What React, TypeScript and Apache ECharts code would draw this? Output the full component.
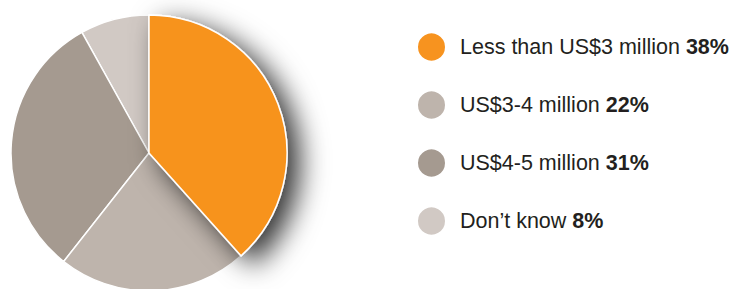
import React, { useEffect, useRef } from "react";
import * as echarts from "echarts";

const categories = ["Less than US$3 million", "US$3-4 million", "US$4-5 million", "Don\u2019t know"];
const values = [38, 22, 31, 8];
const colors = ["#F7931F", "#BEB4AC", "#A59A90", "#D1C9C4"];

export default function App() {
  const ref = useRef<HTMLDivElement>(null);
  useEffect(() => {
    document.body.style.margin = "0";
    const chart = echarts.init(ref.current!, null, { renderer: "svg" });
    // draw in reverse order, counter-clockwise, so the orange slice is on top and casts its shadow
    const order = [3, 2, 1, 0];
    const data = order.map((i) => ({
      name: categories[i],
      value: values[i],
      itemStyle:
        i === 0
          ? {
              color: colors[i],
              shadowBlur: 28,
              shadowColor: "rgba(0,0,0,0.8)",
              shadowOffsetX: 12,
              shadowOffsetY: 9,
            }
          : { color: colors[i] },
    }));
    chart.setOption({
      animation: false,
      legend: {
        data: categories,
        orient: "vertical",
        left: 416,
        top: 31.5,
        padding: 0,
        icon: "circle",
        itemWidth: 29,
        itemHeight: 29,
        itemGap: 27,
        selectedMode: false,
        formatter: (name: string) => {
          const i = categories.indexOf(name);
          return `{n|${name}}{b|${values[i]}%}`;
        },
        textStyle: {
          padding: [0, 0, 0, 9],
          rich: {
            n: { fontFamily: "Liberation Sans, Arial, sans-serif", fontSize: 21.5, color: "#231F20" },
            b: {
              fontFamily: "Liberation Sans, Arial, sans-serif",
              fontSize: 21.5,
              fontWeight: "bold",
              color: "#231F20",
              padding: [0, 0, 0, 6],
            },
          },
        },
      },
      series: [
        {
          type: "pie",
          center: [149, 153],
          radius: 138,
          startAngle: 90,
          clockwise: false,
          label: { show: false },
          labelLine: { show: false },
          emphasis: { disabled: true },
          itemStyle: { borderColor: "#ffffff", borderWidth: 1.5 },
          data,
        },
      ],
    });
    return () => chart.dispose();
  }, []);
  return <div ref={ref} style={{ width: 729, height: 289 }} />;
}
